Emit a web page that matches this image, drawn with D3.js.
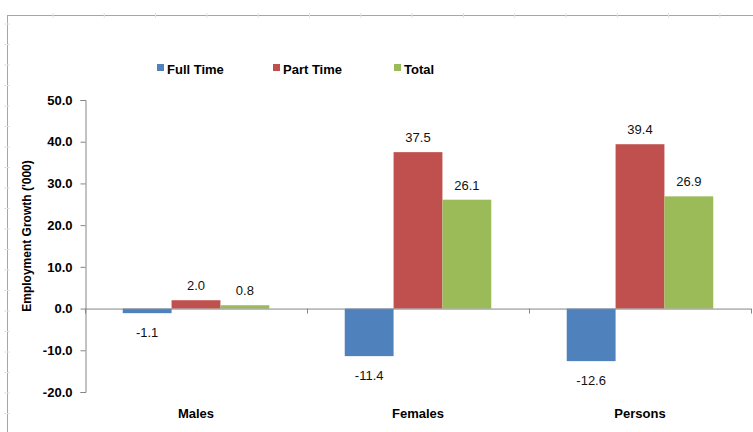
<html>
<head>
<meta charset="utf-8">
<style>
  body { margin: 0; background: #fff; }
  svg text { font-family: "Liberation Sans", Arial, sans-serif; fill: #000; }
  .y-axis .domain { stroke: #868686; }
  .y-axis .tick line { stroke: #868686; }
  .y-axis .tick text { font-weight: bold; font-size: 13px; }
  .cat { font-weight: bold; font-size: 13px; }
  .lbl { font-size: 13px; fill: #111; }
  .legend text { font-weight: bold; font-size: 13px; }
</style>
</head>
<body>
<svg class="chart" width="753" height="432"></svg>

<script src="https://cdnjs.cloudflare.com/ajax/libs/d3/7.8.5/d3.min.js"></script>
<script>
  var categories = ["Males", "Females", "Persons"];
  var seriesNames = ["Full Time", "Part Time", "Total"];
  var fullTime = [-1.1, -11.4, -12.6];
  var partTime = [2.0, 37.5, 39.4];
  var total = [0.8, 26.1, 26.9];
  var yTicks = [-20, -10, 0, 10, 20, 30, 40, 50];
  var colors = ["#4F81BD", "#C0504D", "#9BBB59"];

  var seriesValues = [fullTime, partTime, total];
  var data = [];
  categories.forEach(function(c, i) {
    seriesNames.forEach(function(s, j) {
      data.push({cat: c, series: s, value: seriesValues[j][i], color: colors[j]});
    });
  });

  // hyphen minus like the spreadsheet, not the unicode minus
  var fmt = function(v) { return d3.format(".1f")(v).replace("\u2212", "-"); };

  var plotLeft = 85, plotRight = 751, plotTop = 100, plotBottom = 392;

  var chart = d3.select(".chart");

  // outer frame (spreadsheet chart box)
  chart.append("line").attr("x1", 7).attr("x2", 753).attr("y1", 15.5).attr("y2", 15.5)
    .attr("stroke", "#a6a6a6");
  chart.append("line").attr("x1", 7.5).attr("x2", 7.5).attr("y1", 15).attr("y2", 432)
    .attr("stroke", "#a6a6a6");
  // faint worksheet gridline stubs
  chart.selectAll(".gx").data(d3.range(53, 753, 51.3)).enter().append("line")
    .attr("x1", function(d) { return d; }).attr("x2", function(d) { return d; })
    .attr("y1", 13).attr("y2", 18).attr("stroke", "#e4e4e4");
  chart.selectAll(".gy").data(d3.range(24, 432, 20.5)).enter().append("line")
    .attr("x1", 4).attr("x2", 10).attr("y1", function(d) { return d; }).attr("y2", function(d) { return d; })
    .attr("stroke", "#e4e4e4");

  var yScale = d3.scaleLinear().domain([-20, 50]).range([plotBottom, plotTop]);
  var xScale = d3.scaleBand().domain(categories).range([plotLeft, plotRight]).paddingInner(0.34).paddingOuter(0.17);
  var xSub = d3.scaleBand().domain(seriesNames).range([0, xScale.bandwidth()]);

  var yAxis = d3.axisLeft(yScale).tickValues(yTicks).tickFormat(fmt).tickSize(5).tickSizeOuter(5).tickPadding(8);
  chart.append("g").attr("class", "y-axis")
    .attr("transform", "translate(" + (plotLeft + 0.5) + ",0)")
    .call(yAxis);

  // bars
  chart.selectAll("rect.bar").data(data).enter().append("rect")
    .attr("class", "bar")
    .attr("x", function(d) { return xScale(d.cat) + xSub(d.series); })
    .attr("width", xSub.bandwidth())
    .attr("y", function(d) { return yScale(Math.max(0, d.value)); })
    .attr("height", function(d) { return Math.abs(yScale(d.value) - yScale(0)); })
    .attr("fill", function(d) { return d.color; });

  // category axis at zero
  var bounds = [plotLeft, plotRight].concat(categories.slice(1).map(function(c) { return xScale(c) - xScale.step() * xScale.paddingInner() / 2; }));
  var xg = chart.append("g").attr("class", "x-axis");
  xg.append("line").attr("x1", plotLeft).attr("x2", plotRight).attr("y1", yScale(0) + 0.5).attr("y2", yScale(0) + 0.5)
    .attr("stroke", "#868686");
  xg.selectAll(".xt").data(bounds).enter().append("line")
    .attr("x1", function(d) { return d + 0.5; }).attr("x2", function(d) { return d + 0.5; })
    .attr("y1", yScale(0)).attr("y2", yScale(0) + 5)
    .attr("stroke", "#868686");

  chart.selectAll("text.cat").data(categories).enter().append("text")
    .attr("class", "cat")
    .attr("x", function(d) { return xScale(d) + xScale.bandwidth() / 2; })
    .attr("y", 418)
    .attr("text-anchor", "middle")
    .text(function(d) { return d; });

  // value labels
  chart.selectAll("text.lbl").data(data).enter().append("text")
    .attr("class", "lbl")
    .attr("x", function(d) { return xScale(d.cat) + xSub(d.series) + xSub.bandwidth() / 2; })
    .attr("y", function(d) { return d.value >= 0 ? yScale(d.value) - 10 : yScale(d.value) + 24; })
    .attr("text-anchor", "middle")
    .text(function(d) { return fmt(d.value); });

  // y title
  chart.append("text")
    .attr("transform", "translate(31,236) rotate(-90)")
    .attr("text-anchor", "middle")
    .style("font-weight", "bold").style("font-size", "12px")
    .text("Employment Growth ('000)");

  // legend
  var legendX = [157, 273, 394];
  var legend = chart.append("g").attr("class", "legend");
  var items = legend.selectAll("g").data(seriesNames).enter().append("g")
    .attr("transform", function(d, i) { return "translate(" + legendX[i] + ",64)"; });
  items.append("rect").attr("width", 7).attr("height", 7).attr("y", 0)
    .attr("fill", function(d, i) { return colors[i]; });
  items.append("text").attr("x", 10).attr("y", 10).text(function(d) { return d; });
</script>
</body>
</html>
